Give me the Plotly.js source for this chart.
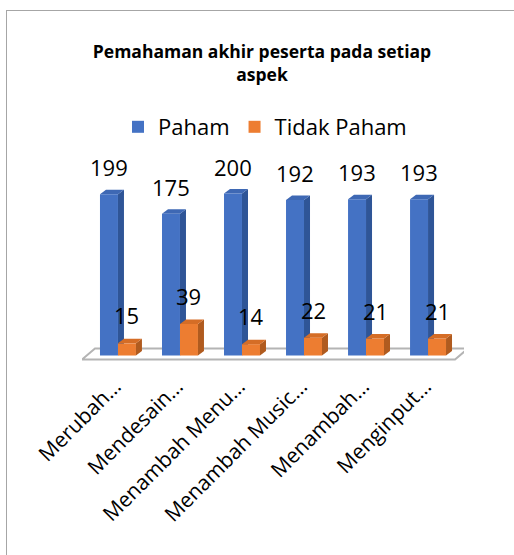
<!DOCTYPE html>
<html>
<head>
<meta charset="utf-8">
<script src="https://cdn.plot.ly/plotly-3.0.1.min.js"></script>
<style>
  html, body { margin: 0; padding: 0; background: #ffffff; overflow: hidden; }
  #wrap { position: relative; width: 514px; height: 555px; }
  #chart { position: absolute; left: 0; top: 0; width: 514px; height: 555px; }
  #frame { position: absolute; left: 6px; top: 10px; width: 600px; height: 600px;
           border: 1px solid #a6a6a6; pointer-events: none; }
</style>
</head>
<body>
<div id="wrap">
  <div id="chart"></div>
  <div id="frame"></div>
</div>
<script>
// ---- data ----
const categories = ["Merubah…", "Mendesain…", "Menambah Menu…", "Menambah Music…", "Menambah…", "Menginput…"];
const paham = [199, 175, 200, 192, 193, 193];
const tidakPaham = [15, 39, 14, 22, 21, 21];
const seriesNames = ["Paham", "Tidak Paham"];
const chartTitle = "Pemahaman akhir peserta pada setiap<br>aspek";

// ---- geometry / style ----
const W = 514, H = 555;
const M = { l: 82, r: 50, t: 153, b: 193 };
const xRange = [-0.58, 5.58];
const yRange = [-8, 250];
const ux = (W - M.l - M.r) / (xRange[1] - xRange[0]); // px per x unit
const uy = (H - M.t - M.b) / (yRange[1] - yRange[0]); // px per y unit
const barW = 0.29;
const depthX = 6 / ux, depthY = 4.5 / uy;
const FONT = "Open Sans, Liberation Sans, sans-serif";

const colors = {
  blue: { front: "#4472C4", side: "#2F5597", top: "#3E68B4" },
  orange: { front: "#ED7D31", side: "#B05B1F", top: "#D56D26" }
};

const xs = categories.map((_, i) => i);

const traces = [
  {
    type: "bar", name: seriesNames[0], x: xs, y: paham,
    width: barW, offset: -barW,
    marker: { color: colors.blue.front, line: { width: 0 } },
    hoverinfo: "skip"
  },
  {
    type: "bar", name: seriesNames[1], x: xs, y: tidakPaham,
    width: barW, offset: 0,
    marker: { color: colors.orange.front, line: { width: 0 } },
    hoverinfo: "skip"
  }
];

function pathOf(pts) {
  return "M" + pts.map(p => p[0].toFixed(4) + "," + p[1].toFixed(4)).join(" L") + " Z";
}

const shapes = [];
// floor slab
const fl = -36 / ux, fr = (categories.length - 1) + 27 / ux;
const fFront = -4 / uy, fBack = 7 / uy, fdx = 13 / ux;
shapes.push({
  type: "path", xref: "x", yref: "y", layer: "below",
  path: pathOf([[fl, fFront], [fl + fdx, fBack], [fr + fdx, fBack], [fr, fFront]]),
  fillcolor: "#ffffff", line: { color: "#b4b4b4", width: 2 }
});

function addBox(x0, v, c, layer) {
  const x1 = x0 + barW;
  shapes.push({
    type: "path", xref: "x", yref: "y", layer: layer,
    path: pathOf([[x1, 0], [x1 + depthX, depthY], [x1 + depthX, v + depthY], [x1, v]]),
    fillcolor: c.side, line: { width: 0 }
  });
  shapes.push({
    type: "path", xref: "x", yref: "y", layer: layer,
    path: pathOf([[x0, v], [x0 + depthX, v + depthY], [x1 + depthX, v + depthY], [x1, v]]),
    fillcolor: c.top, line: { width: 0 }
  });
}
xs.forEach((x, i) => addBox(x - barW, paham[i], colors.blue, "below"));
xs.forEach((x, i) => addBox(x, tidakPaham[i], colors.orange, "above"));

const annotations = [];
xs.forEach((x, i) => {
  annotations.push({
    x: x - barW / 2, y: paham[i], xref: "x", yref: "y",
    text: String(paham[i]), showarrow: false, yanchor: "bottom", yshift: 10,
    font: { family: FONT, size: 22, color: "#000000" }
  });
  annotations.push({
    x: x + barW / 2, y: tidakPaham[i], xref: "x", yref: "y",
    text: String(tidakPaham[i]), showarrow: false, yanchor: "bottom", yshift: 11,
    font: { family: FONT, size: 22, color: "#000000" }
  });
});

const layout = {
  width: W, height: H,
  margin: M,
  paper_bgcolor: "rgba(0,0,0,0)",
  plot_bgcolor: "rgba(0,0,0,0)",
  barmode: "overlay",
  showlegend: true,
  title: {
    text: chartTitle,
    font: { family: FONT, size: 17.5, color: "#000000", weight: "bold" },
    x: 262 / W, xanchor: "center", xref: "container",
    y: 1 - 58 / H, yanchor: "middle", yref: "container"
  },
  legend: {
    orientation: "h",
    x: 265 / W, xanchor: "center", xref: "container",
    y: 1 - 127 / H, yanchor: "middle", yref: "container",
    font: { family: FONT, size: 22, color: "#000000" },
    traceorder: "normal",
    itemclick: false, itemdoubleclick: false
  },
  xaxis: {
    range: xRange, fixedrange: true,
    tickmode: "array", tickvals: xs, ticktext: categories,
    tickangle: -45,
    tickfont: { family: FONT, size: 21, color: "#000000" },
    showgrid: false, zeroline: false, showline: false, ticks: "",
    ticklabelshift: -3, ticklabelstandoff: 7
  },
  yaxis: {
    range: yRange, fixedrange: true,
    visible: false, showgrid: false, zeroline: false
  },
  shapes: shapes,
  annotations: annotations
};

Plotly.newPlot("chart", traces, layout, { staticPlot: true, displayModeBar: false });
</script>
</body>
</html>
